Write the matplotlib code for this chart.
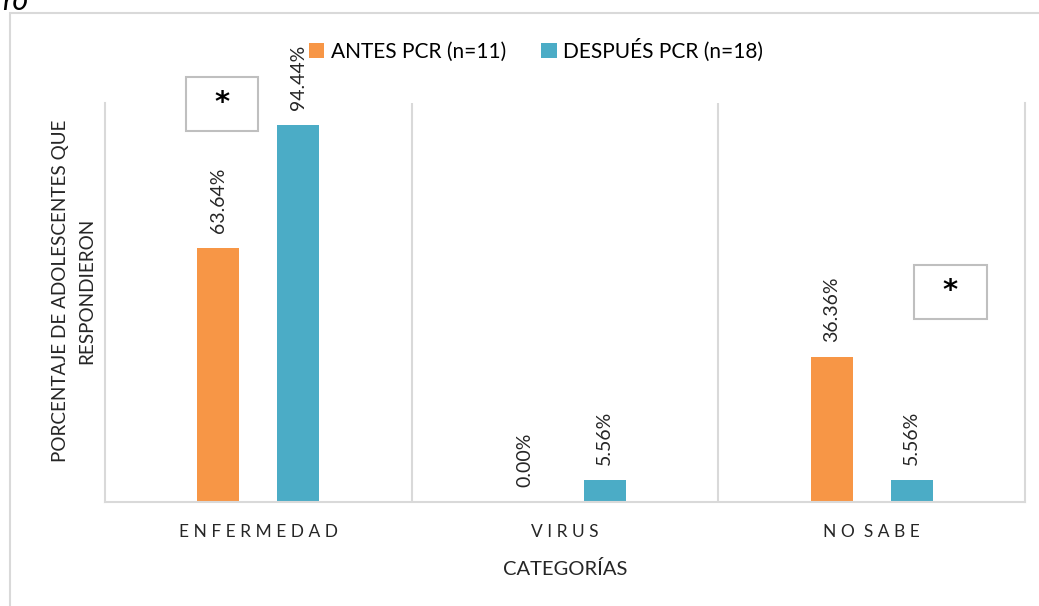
import matplotlib
matplotlib.use("Agg")
import matplotlib.pyplot as plt
from matplotlib.patches import Rectangle

plt.rcParams['font.family'] = ['Lato', 'DejaVu Sans']

categories = ["E N F E R M E D A D", "V I R U S", "N O  S A B E"]
antes = [63.64, 0.00, 36.36]
despues = [94.44, 5.56, 5.56]
series_names = ["ANTES PCR (n=11)", "DESPUÉS PCR (n=18)"]
colors = ["#F79646", "#4BACC6"]
grid_c = "#D9D9D9"

W, H = 1039, 606
fig = plt.figure(figsize=(W / 100, H / 100), dpi=100)

# outer frame
fig.add_artist(Rectangle((10 / W, -0.05), 1.2, 1 - 13 / H + 0.05,
                         transform=fig.transFigure, fill=False,
                         edgecolor=grid_c, linewidth=1.5))
fig.text(2 / W, 1 - 10 / H, "ro", fontsize=22, style="italic",
         va="baseline", ha="left", color="black")

ax = fig.add_axes([105 / W, 104 / H, 920 / W, 399 / H])
x = list(range(len(categories)))
off, bw = 0.13, 0.137
b1 = ax.bar([i - off for i in x], antes, bw, color=colors[0], label=series_names[0])
b2 = ax.bar([i + off for i in x], despues, bw, color=colors[1], label=series_names[1])

for bars, vals in ((b1, antes), (b2, despues)):
    for r, v in zip(bars, vals):
        ax.annotate(f"{v:.2f}%", (r.get_x() + r.get_width() / 2, v),
                    xytext=(0, 11), textcoords="offset points",
                    rotation=90, ha="center", va="bottom", fontsize=14,
                    color="#262626")

ax.set_xlim(-0.5, 2.5)
ax.set_ylim(0, 100)
ax.set_yticks([])
ax.set_xticks(x)
ax.set_xticklabels(categories, fontsize=12.5, color="#262626")
ax.tick_params(axis="x", length=0, pad=16)
for xv in (0.5, 1.5):
    ax.axvline(xv, color=grid_c, linewidth=1.5, zorder=0)
for s in ("left", "right", "bottom"):
    ax.spines[s].set_color(grid_c)
    ax.spines[s].set_linewidth(1.5)
ax.spines["top"].set_visible(False)

ax.set_xlabel("CATEGORÍAS", fontsize=14.5, color="#262626", labelpad=14)
ax.set_ylabel("PORCENTAJE DE ADOLESCENTES QUE\nRESPONDIERON", fontsize=13.6,
              color="#262626", linespacing=1.6)
ax.yaxis.set_label_coords(-0.011, 0.53)

fig.legend(handles=[b1, b2], labels=series_names, loc="center",
           bbox_to_anchor=(536 / W, 1 - 50 / H), ncol=2, frameon=False,
           fontsize=15, handlelength=0.75, handleheight=0.75, handletextpad=0.3,
           columnspacing=1.7)

# significance boxes
for (x0, y0, x1, y1) in ((186, 77, 258, 131), (914, 265, 987, 319)):
    fig.add_artist(Rectangle((x0 / W, 1 - y1 / H), (x1 - x0) / W, (y1 - y0) / H,
                             transform=fig.transFigure, facecolor="white",
                             edgecolor="#BFBFBF", linewidth=1.5))
    fig.text((x0 + x1) / 2 / W, 1 - (y0 + y1) / 2 / H + 0.002, "*", fontsize=21,
             fontweight="bold", ha="center", va="center", color="black",
             family="DejaVu Sans")

fig.savefig("out.png", dpi=100)
